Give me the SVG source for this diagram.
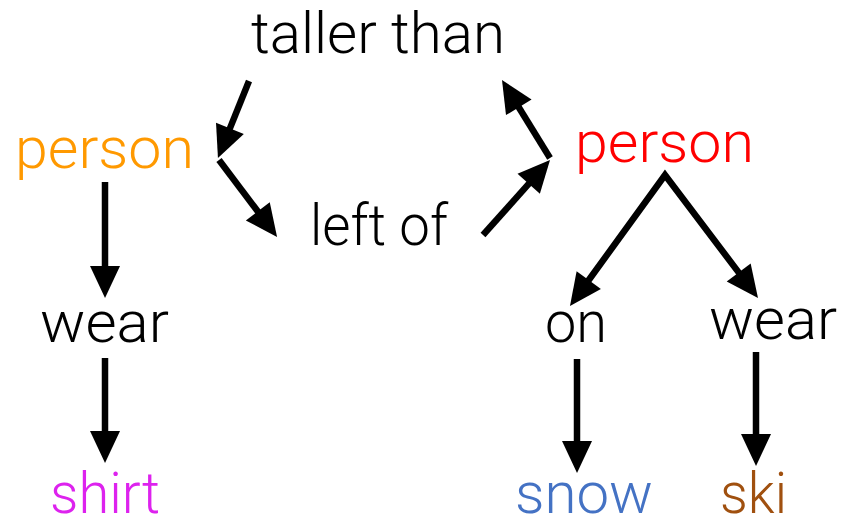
<svg xmlns="http://www.w3.org/2000/svg" width="841" height="517" viewBox="0 0 841 517">
<style>
  text { font-family: Roboto, "Liberation Sans", sans-serif; font-weight: 300; font-size: 58px; fill: #000; }
  .edge { fill: none; stroke: #000; stroke-width: 6.5; stroke-linejoin: miter; stroke-miterlimit: 10; }
</style>
<defs>
  <marker id="ah" markerUnits="userSpaceOnUse" viewBox="-4 -16 34 32" refX="0" refY="0" markerWidth="34" markerHeight="32" orient="auto-start-reverse">
    <path d="M-3,-15 L29,0 L-3,15 Z" fill="#000"/>
  </marker>
</defs>
<rect width="841" height="517" fill="#fff"/>
<g id="connectors">
  <path class="edge" d="M249,81 L228.8,131.1" marker-end="url(#ah)"/>
  <path class="edge" d="M219,160 L259.6,213.8" marker-end="url(#ah)"/>
  <path class="edge" d="M483,235 L530.7,181.6" marker-end="url(#ah)"/>
  <path class="edge" d="M550,158 L517.2,104.7" marker-end="url(#ah)"/>
  <path class="edge" d="M105,182 L105,269" marker-end="url(#ah)"/>
  <path class="edge" d="M105,358 L105,434" marker-end="url(#ah)"/>
  <path class="edge" d="M587,282.5 L665,175 L740.5,274.9" marker-start="url(#ah)" marker-end="url(#ah)"/>
  <path class="edge" d="M577,359 L577,444" marker-end="url(#ah)"/>
  <path class="edge" d="M756,352 L756,437" marker-end="url(#ah)"/>
</g>
<g id="taller-than"><text x="251" y="53" textLength="254" lengthAdjust="spacingAndGlyphs">taller than</text></g>
<g id="person-left"><text x="15" y="168" textLength="179" lengthAdjust="spacingAndGlyphs" style="fill:#FF9900">person</text></g>
<g id="person-right"><text x="575" y="162" textLength="179" lengthAdjust="spacingAndGlyphs" style="fill:#FF0000">person</text></g>
<g id="left-of"><text x="310" y="245" textLength="138" lengthAdjust="spacingAndGlyphs">left of</text></g>
<g id="wear-left"><text x="40" y="342" textLength="129" lengthAdjust="spacingAndGlyphs">wear</text></g>
<g id="shirt"><text x="50" y="513" textLength="110" lengthAdjust="spacingAndGlyphs" style="fill:#DD22EE">shirt</text></g>
<g id="on"><text x="545" y="342" textLength="62" lengthAdjust="spacingAndGlyphs">on</text></g>
<g id="wear-right"><text x="709" y="339" textLength="128" lengthAdjust="spacingAndGlyphs">wear</text></g>
<g id="snow"><text x="515" y="513" textLength="138" lengthAdjust="spacingAndGlyphs" style="fill:#4472C4">snow</text></g>
<g id="ski"><text x="720" y="513" textLength="67" lengthAdjust="spacingAndGlyphs" style="fill:#A0500F">ski</text></g>
</svg>
